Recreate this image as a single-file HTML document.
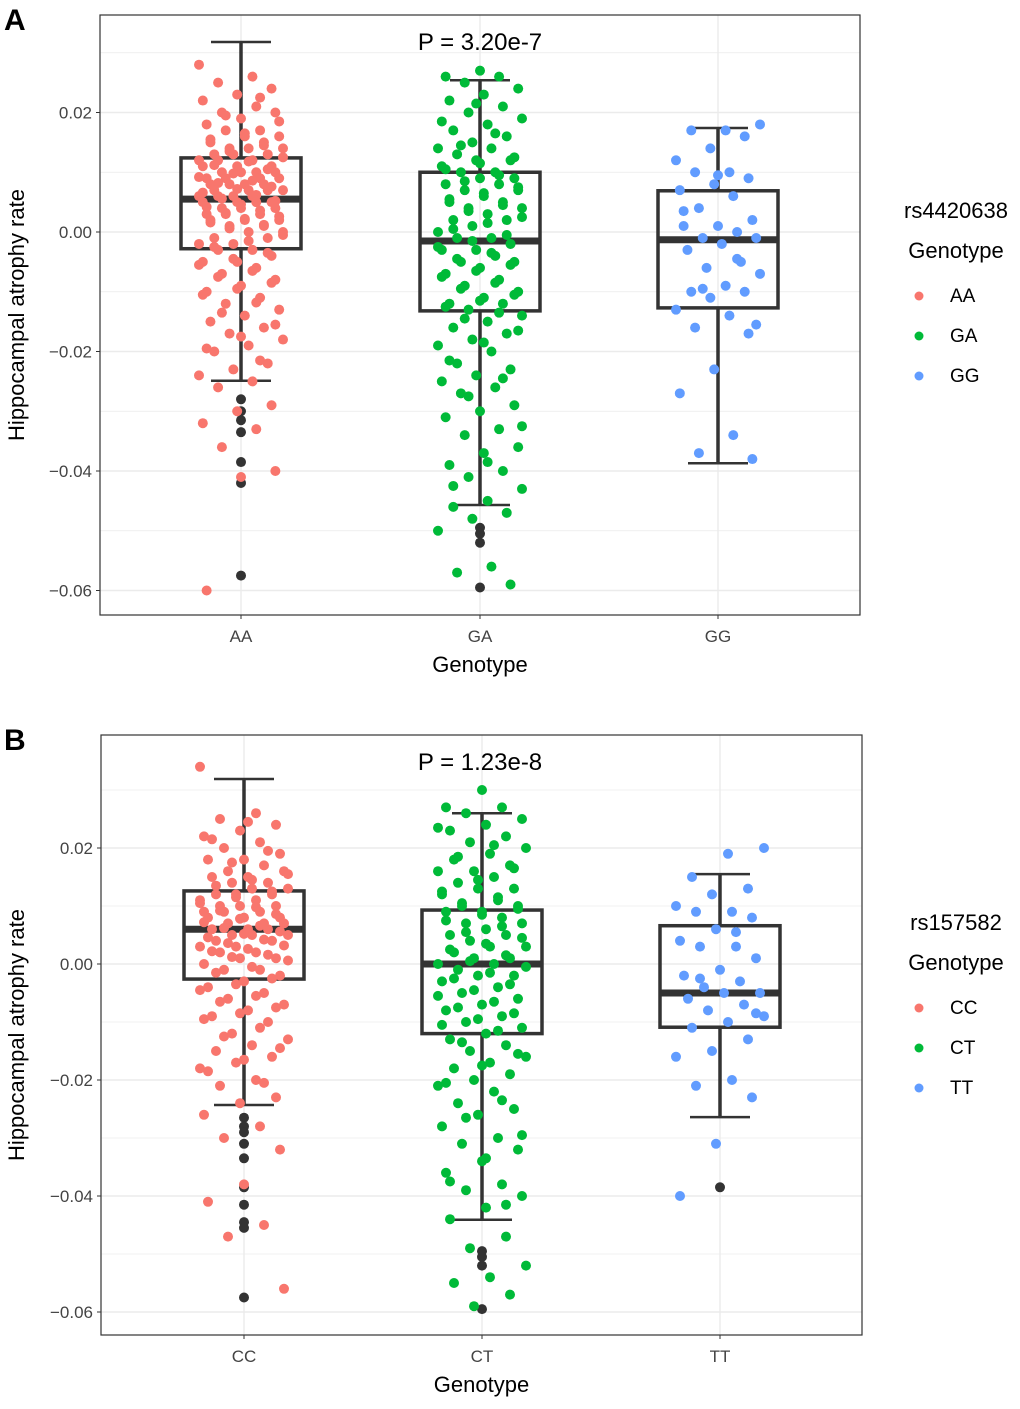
<!DOCTYPE html>
<html><head><meta charset="utf-8">
<style>
body{margin:0;background:#fff;}
svg text{font-family:"Liberation Sans",Arial,sans-serif;}
</style></head>
<body>
<svg id="chart" width="1020" height="1404" viewBox="0 0 1020 1404" xmlns="http://www.w3.org/2000/svg"></svg>
<script>
// ---------- Panel A data ----------
const catsA = ["AA","GA","GG"];
const yTicks = [0.02, 0.00, -0.02, -0.04, -0.06];
const yTickLabels = ["0.02","0.00","\u22120.02","\u22120.04","\u22120.06"];
const boxA_q1 = [-0.0028,-0.0132,-0.0127];
const boxA_med = [0.0055,-0.0015,-0.0013];
const boxA_q3 = [0.0124,0.0100,0.0069];
const boxA_lo = [-0.0249,-0.0457,-0.0387];
const boxA_hi = [0.0318,0.0254,0.0174];
const outA_AA = [-0.028,-0.030,-0.0315,-0.0335,-0.0385,-0.042,-0.0575];
const outA_GA = [-0.0495,-0.0505,-0.052,-0.0595];
const outA_GG = [];
const ptsA_AA = [0.028,0.026,0.025,0.024,0.023,0.022,0.021,0.020,0.020,0.019,0.018,0.017,0.017,0.016,0.016,0.015,0.015,0.014,0.014,0.014,0.013,0.013,0.013,0.012,0.012,0.012,0.011,0.011,0.011,0.010,0.010,0.010,0.010,0.009,0.009,0.009,0.009,0.008,0.008,0.008,0.008,0.007,0.007,0.007,0.007,0.006,0.006,0.006,0.006,0.005,0.005,0.005,0.005,0.004,0.004,0.004,0.003,0.003,0.003,0.002,0.002,0.002,0.001,0.001,0.000,0.000,-0.001,-0.001,-0.002,-0.002,-0.003,-0.003,-0.004,-0.005,-0.005,-0.006,-0.007,-0.008,-0.009,-0.010,-0.011,-0.012,-0.013,-0.014,-0.015,-0.016,-0.017,-0.018,-0.019,-0.020,-0.022,-0.023,-0.024,-0.025,-0.026,-0.029,-0.030,-0.032,-0.033,-0.036,-0.040,-0.041,-0.060,
 0.0225,0.0195,0.0185,0.0165,0.0155,0.0145,0.0135,0.0125,0.0118,0.0112,0.0105,0.0098,0.0092,0.0086,0.0082,0.0076,0.0072,0.0066,0.0062,0.0056,0.0052,0.0046,0.0042,0.0036,0.0032,0.0026,0.0022,0.0016,0.0012,0.0006,-0.0005,-0.0015,-0.0025,-0.0035,-0.0045,-0.0055,-0.0065,-0.0075,-0.0085,-0.0095,-0.0105,-0.0118,-0.0135,-0.0155,-0.0175,-0.0195,-0.0215];
const ptsA_GA = [0.027,0.026,0.026,0.025,0.024,0.023,0.022,0.021,0.020,0.019,0.018,0.017,0.016,0.015,0.014,0.014,0.013,0.012,0.012,0.011,0.010,0.010,0.009,0.009,0.008,0.008,0.007,0.007,0.006,0.005,0.005,0.004,0.004,0.003,0.002,0.002,0.001,0.000,-0.001,-0.001,-0.002,-0.003,-0.003,-0.004,-0.005,-0.005,-0.006,-0.007,-0.008,-0.009,-0.010,-0.011,-0.012,-0.012,-0.013,-0.014,-0.015,-0.016,-0.017,-0.018,-0.019,-0.020,-0.022,-0.023,-0.024,-0.025,-0.026,-0.027,-0.029,-0.030,-0.031,-0.033,-0.034,-0.036,-0.037,-0.039,-0.040,-0.041,-0.043,-0.045,-0.046,-0.047,-0.048,-0.050,-0.056,-0.057,-0.059,
 0.0215,0.0185,0.0165,0.0145,0.0125,0.0115,0.0105,0.0095,0.0085,0.0075,0.0065,0.0055,0.0045,0.0035,0.0025,0.0015,0.0005,-0.0005,-0.0015,-0.0025,-0.0035,-0.0045,-0.0055,-0.0065,-0.0075,-0.0085,-0.0095,-0.0105,-0.0115,-0.0125,-0.0135,-0.0145,-0.0165,-0.0185,-0.0215,-0.0245,-0.0275,-0.0325,-0.0385,-0.0425];
const ptsA_GG = [0.018,0.017,0.017,0.016,0.014,0.012,0.010,0.010,0.009,0.008,0.007,0.006,0.004,0.002,0.001,0.001,0.000,-0.001,-0.001,-0.002,-0.003,-0.005,-0.006,-0.007,-0.009,-0.010,-0.010,-0.011,-0.013,-0.014,-0.016,-0.017,-0.023,-0.027,-0.034,-0.037,-0.038,0.0095,0.0035,-0.0045,-0.0095,-0.0155];
// ---------- Panel B data ----------
const catsB = ["CC","CT","TT"];
const boxB_q1 = [-0.0026,-0.0120,-0.0109];
const boxB_med = [0.0060,0.0000,-0.0050];
const boxB_q3 = [0.0126,0.0093,0.0066];
const boxB_lo = [-0.0243,-0.0441,-0.0264];
const boxB_hi = [0.0319,0.0260,0.0155];
const outB_CC = [-0.0265,-0.028,-0.029,-0.031,-0.0335,-0.0385,-0.0415,-0.0445,-0.0455,-0.0575];
const outB_CT = [-0.0495,-0.0505,-0.052,-0.0595];
const outB_TT = [-0.0385];
const ptsB_CC = [0.034,0.026,0.025,0.024,0.023,0.022,0.021,0.020,0.019,0.018,0.018,0.017,0.016,0.016,0.015,0.015,0.014,0.014,0.013,0.013,0.012,0.012,0.012,0.011,0.011,0.010,0.010,0.010,0.009,0.009,0.009,0.008,0.008,0.008,0.007,0.007,0.007,0.006,0.006,0.006,0.005,0.005,0.005,0.004,0.004,0.003,0.003,0.002,0.002,0.001,0.001,0.000,-0.001,-0.001,-0.002,-0.003,-0.004,-0.005,-0.006,-0.007,-0.008,-0.009,-0.010,-0.012,-0.013,-0.014,-0.015,-0.016,-0.017,-0.018,-0.020,-0.021,-0.023,-0.024,-0.026,-0.028,-0.030,-0.032,-0.038,-0.041,-0.045,-0.047,-0.056,
 0.0245,0.0215,0.0195,0.0175,0.0155,0.0145,0.0135,0.0125,0.0115,0.0105,0.0098,0.0092,0.0086,0.0078,0.0072,0.0066,0.0062,0.0056,0.0052,0.0046,0.0042,0.0036,0.0032,0.0026,0.0022,0.0016,0.0012,0.0006,-0.0005,-0.0015,-0.0025,-0.0035,-0.0045,-0.0055,-0.0065,-0.0075,-0.0085,-0.0095,-0.0110,-0.0125,-0.0145,-0.0165,-0.0185,-0.0205];
const ptsB_CT = [0.030,0.027,0.027,0.026,0.025,0.024,0.023,0.022,0.021,0.020,0.019,0.018,0.017,0.016,0.016,0.015,0.014,0.013,0.013,0.012,0.011,0.010,0.010,0.009,0.009,0.008,0.007,0.007,0.006,0.005,0.005,0.004,0.003,0.003,0.002,0.001,0.001,0.000,0.000,-0.001,-0.002,-0.002,-0.003,-0.004,-0.005,-0.006,-0.007,-0.008,-0.009,-0.010,-0.011,-0.012,-0.013,-0.014,-0.015,-0.016,-0.017,-0.018,-0.019,-0.020,-0.021,-0.022,-0.024,-0.025,-0.026,-0.028,-0.030,-0.031,-0.032,-0.034,-0.036,-0.038,-0.039,-0.040,-0.042,-0.044,-0.047,-0.049,-0.052,-0.054,-0.055,-0.057,-0.059,
 0.0235,0.0205,0.0185,0.0165,0.0145,0.0125,0.0115,0.0105,0.0095,0.0085,0.0075,0.0065,0.0055,0.0045,0.0035,0.0025,0.0015,0.0005,-0.0005,-0.0015,-0.0025,-0.0035,-0.0045,-0.0055,-0.0065,-0.0075,-0.0085,-0.0095,-0.0105,-0.0115,-0.0135,-0.0155,-0.0175,-0.0205,-0.0235,-0.0265,-0.0295,-0.0335,-0.0375,-0.0415];
const ptsB_TT = [0.020,0.019,0.015,0.013,0.012,0.010,0.009,0.009,0.008,0.006,0.004,0.003,0.003,0.001,-0.001,-0.002,-0.003,-0.004,-0.005,-0.005,-0.006,-0.007,-0.008,-0.009,-0.010,-0.011,-0.013,-0.015,-0.016,-0.020,-0.021,-0.023,-0.031,-0.040,0.0055,-0.0025,-0.0085];

const NS="http://www.w3.org/2000/svg";
const svg=document.getElementById('chart');
const colors=["#F8766D","#00BA38","#619CFF"];
function mk(tag,attrs,parent,text){const e=document.createElementNS(NS,tag);for(const k in attrs)e.setAttribute(k,attrs[k]);if(text!==undefined)e.textContent=text;(parent||svg).appendChild(e);return e;}

function panel(o){
  const g=mk('g',{});
  
  
  const yS=v=>o.y0-v*o.ppu;
  const xS=i=>o.xc[i];
  for(let v=-0.07;v<=0.031;v+=0.01){
    const y=yS(v); if(y<o.top||y>o.bot) continue;
    const major=Math.abs(Math.round(v*100))%2===0;
    const l=mk('line',{x1:o.left,x2:o.right,y1:y,y2:y,stroke:'#ebebeb','stroke-width':major?1.4:0.7},g);
    
    
  }
  o.cats.forEach((c,i)=>{const l=mk('line',{x1:xS(i),x2:xS(i),y1:o.top,y2:o.bot,stroke:'#ebebeb','stroke-width':1.4},g);
    
    });
  o.cats.forEach((c,i)=>{
    const x=xS(i),hw=60,cw=30;
    const bg=mk('g',{stroke:'#333','stroke-width':3.5,fill:'none'},g);
    
    
    mk('line',{x1:x,x2:x,y1:yS(o.hi[i]),y2:yS(o.q3[i])},bg);
    mk('line',{x1:x,x2:x,y1:yS(o.q1[i]),y2:yS(o.lo[i])},bg);
    mk('line',{x1:x-cw,x2:x+cw,y1:yS(o.hi[i]),y2:yS(o.hi[i]),'stroke-width':2.5},bg);
    mk('line',{x1:x-cw,x2:x+cw,y1:yS(o.lo[i]),y2:yS(o.lo[i]),'stroke-width':2.5},bg);
    mk('rect',{x:x-hw,y:yS(o.q3[i]),width:2*hw,height:yS(o.q1[i])-yS(o.q3[i])},bg);
    mk('line',{x1:x-hw,x2:x+hw,y1:yS(o.med[i]),y2:yS(o.med[i]),'stroke-width':7},bg);
  });
  o.outs.forEach((arr,i)=>arr.forEach(v=>{const c=mk('circle',{cx:xS(i),cy:yS(v),r:5,fill:'#333'},g);
    
    }));
  o.pts.forEach((arr,i)=>arr.forEach((v,k)=>{
    const j=(((k*37+i*11)%23)/22-0.5)*2*o.jit;
    const c=mk('circle',{cx:xS(i)+j,cy:yS(v),r:5,fill:colors[i]},g);
    
    
  }));
  const b=mk('rect',{x:o.left,y:o.top,width:o.right-o.left,height:o.bot-o.top,fill:'none',stroke:'#333','stroke-width':1.2},g);
  
  
  yTicks.forEach((v,k)=>{const y=yS(v);
    mk('line',{x1:o.left-4,x2:o.left,y1:y,y2:y,stroke:'#333'},g);
    const t=mk('text',{x:o.left-8,y:y+6,'text-anchor':'end','font-size':17,fill:'#444'},g,yTickLabels[k]);
    
    });
  o.cats.forEach((c,i)=>{
    mk('line',{x1:xS(i),x2:xS(i),y1:o.bot,y2:o.bot+4,stroke:'#333'},g);
    const t=mk('text',{x:xS(i),y:o.bot+27,'text-anchor':'middle','font-size':17,fill:'#444'},g,c);
    
    });
  const xt=mk('text',{x:(o.left+o.right)/2,y:o.bot+57,'text-anchor':'middle','font-size':22,fill:'#000'},g,'Genotype');
  
  
  const yc=(o.top+o.bot)/2;
  const yt=mk('text',{x:24,y:yc,'text-anchor':'middle','font-size':22,fill:'#000',transform:`rotate(-90 24 ${yc})`},g,'Hippocampal atrophy rate');
  
  
  const pt=mk('text',{x:480,y:o.top+35,'text-anchor':'middle','font-size':24,fill:'#000'},g,o.p);
  
  
  const pl=mk('text',{x:4,y:o.top+15,'font-size':30,'font-weight':'bold',fill:'#000'},g,o.letter);
  
  
  const lg=mk('g',{},g);
  
  
  mk('text',{x:956,y:o.legY,'text-anchor':'middle','font-size':22},lg,o.snp);
  mk('text',{x:956,y:o.legY+40,'text-anchor':'middle','font-size':22},lg,'Genotype');
  o.cats.forEach((c,i)=>{const y=o.legY+84+i*40;
    const e=mk('g',{},lg);
    
    
    mk('circle',{cx:919,cy:y-6,r:4.5,fill:colors[i]},e);
    mk('text',{x:950,y:y,'font-size':19},e,c);});
}
panel({name:'panel-a',letter:'A',p:'P = 3.20e-7',snp:'rs4420638',legY:218,cats:catsA,left:100,right:860,top:15,bot:615,y0:232,ppu:5975,xc:[241,480,718],jit:42,
  q1:boxA_q1,med:boxA_med,q3:boxA_q3,lo:boxA_lo,hi:boxA_hi,outs:[outA_AA,outA_GA,outA_GG],pts:[ptsA_AA,ptsA_GA,ptsA_GG]});
panel({name:'panel-b',letter:'B',p:'P = 1.23e-8',snp:'rs157582',legY:930,cats:catsB,left:101,right:862,top:735,bot:1335,y0:964,ppu:5800,xc:[244,482,720],jit:44,
  q1:boxB_q1,med:boxB_med,q3:boxB_q3,lo:boxB_lo,hi:boxB_hi,outs:[outB_CC,outB_CT,outB_TT],pts:[ptsB_CC,ptsB_CT,ptsB_TT]});
</script>
</body></html>
